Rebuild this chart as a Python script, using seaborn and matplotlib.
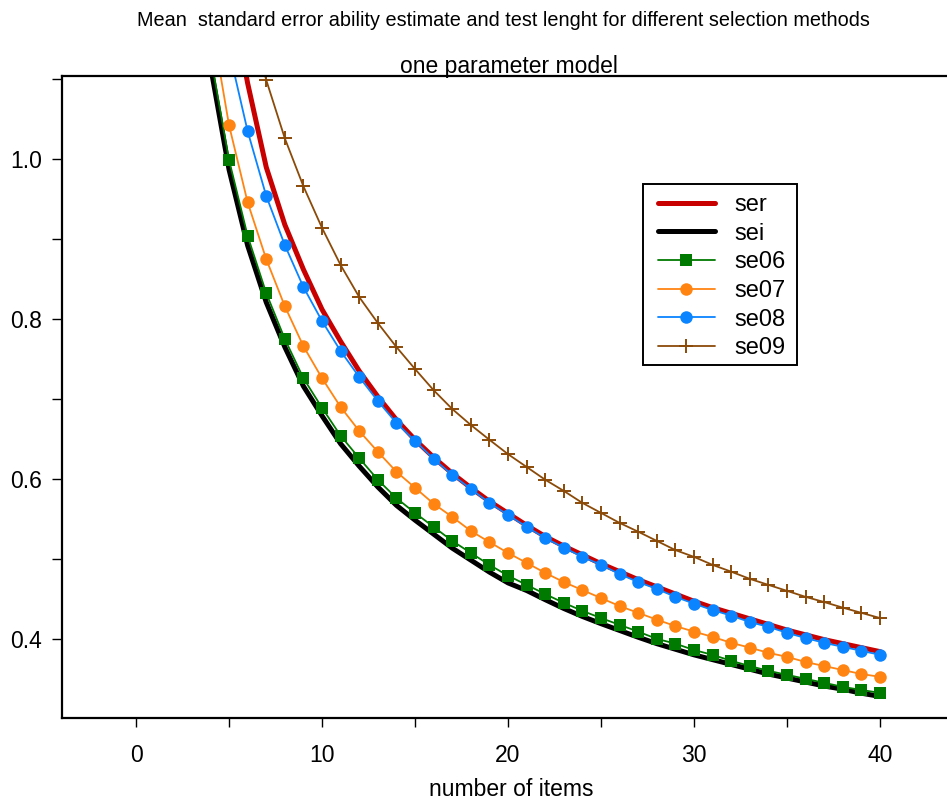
import numpy as np
import pandas as pd
import matplotlib
matplotlib.use("Agg")
import matplotlib.pyplot as plt
import matplotlib.patches as mpatches
import seaborn as sns
from matplotlib.ticker import MultipleLocator

sns.set_theme(style="white")
plt.rcParams['font.family'] = ['Liberation Sans', 'DejaVu Sans']
plt.rcParams['text.color'] = 'black'
plt.rcParams['axes.labelcolor'] = 'black'
plt.rcParams['xtick.color'] = 'black'
plt.rcParams['ytick.color'] = 'black'

# ---------------- data ----------------
n_ser = list(range(5, 41))
ser = [1.22, 1.095, 0.99, 0.918, 0.862, 0.812, 0.772, 0.735, 0.703, 0.674,
       0.649, 0.627, 0.607, 0.589, 0.572, 0.557, 0.542, 0.528, 0.516, 0.505,
       0.494, 0.484, 0.474, 0.465, 0.456, 0.447, 0.439, 0.432, 0.425, 0.418,
       0.411, 0.405, 0.399, 0.394, 0.389, 0.384]

n_sei = list(range(4, 41))
sei = [1.117, 0.987, 0.892, 0.821, 0.765, 0.716, 0.679, 0.644, 0.616, 0.590,
       0.567, 0.5485, 0.531, 0.5135, 0.4985, 0.4835, 0.470, 0.4605, 0.449, 0.438,
       0.428, 0.419, 0.4105, 0.402, 0.394, 0.387, 0.380, 0.374, 0.368, 0.362,
       0.356, 0.351, 0.346, 0.341, 0.337, 0.332, 0.328]

n_se06 = list(range(4, 41))
se06 = [1.130, 0.999, 0.904, 0.8325, 0.775, 0.726, 0.689, 0.654, 0.626, 0.599,
        0.576, 0.5575, 0.540, 0.5225, 0.5075, 0.4925, 0.479, 0.4675, 0.456, 0.445,
        0.435, 0.426, 0.4175, 0.409, 0.400, 0.394, 0.386, 0.380, 0.3725, 0.366,
        0.360, 0.355, 0.350, 0.345, 0.340, 0.336, 0.3325]

n_se07 = list(range(4, 41))
se07 = [1.179, 1.0425, 0.946, 0.875, 0.816, 0.766, 0.726, 0.690, 0.660, 0.634,
        0.609, 0.589, 0.569, 0.5525, 0.535, 0.521, 0.5075, 0.495, 0.4825, 0.471,
        0.461, 0.451, 0.441, 0.4325, 0.424, 0.416, 0.409, 0.4025, 0.395, 0.389,
        0.3825, 0.3775, 0.371, 0.366, 0.361, 0.356, 0.3525]

n_se08 = list(range(5, 41))
se08 = [1.136, 1.035, 0.954, 0.8925, 0.840, 0.7975, 0.760, 0.7275, 0.6975, 0.670,
        0.6475, 0.625, 0.605, 0.5875, 0.570, 0.555, 0.540, 0.526, 0.514, 0.5025,
        0.4925, 0.481, 0.471, 0.4625, 0.4525, 0.444, 0.436, 0.429, 0.421, 0.415,
        0.4075, 0.401, 0.395, 0.390, 0.385, 0.380]

n_se09 = list(range(6, 41))
se09 = [1.19, 1.099, 1.026, 0.966, 0.914, 0.8675, 0.8275, 0.795, 0.765, 0.7375,
        0.711, 0.6875, 0.6675, 0.649, 0.631, 0.615, 0.599, 0.585, 0.570, 0.5575,
        0.545, 0.534, 0.5225, 0.511, 0.5025, 0.4925, 0.484, 0.475, 0.4675, 0.460,
        0.4525, 0.446, 0.439, 0.4325, 0.426]

x_ticks = [0, 10, 20, 30, 40]
y_ticks = [0.4, 0.6, 0.8, 1.0]
title_main = "Mean  standard error ability estimate and test lenght for different selection methods"
title_sub = "one parameter model"
x_label = "number of items"

# ---------------- figure ----------------
W, H = 947, 805
fig = plt.figure(figsize=(W / 100, H / 100), dpi=100)
left_px, right_px, top_px, bottom_px = 62, 960, 76, 718
ax = fig.add_axes([left_px / W, 1 - bottom_px / H, (right_px - left_px) / W, (bottom_px - top_px) / H])

px_per_unit = 18.6
x0 = -3.98
ax.set_xlim(x0, x0 + (right_px - left_px) / px_per_unit)
ax.set_ylim(0.301, 1.104)

series = [
    ("ser", n_ser, ser, dict(color="#C80000", lw=3.6, marker=None)),
    ("sei", n_sei, sei, dict(color="#000000", lw=3.6, marker=None)),
    ("se06", n_se06, se06, dict(color="#007A00", lw=1.3, marker="s", markersize=8, markeredgewidth=0)),
    ("se07", n_se07, se07, dict(color="#FF8411", lw=1.3, marker="o", markersize=9, markeredgewidth=0)),
    ("se08", n_se08, se08, dict(color="#0A84FF", lw=1.3, marker="o", markersize=9, markeredgewidth=0)),
    ("se09", n_se09, se09, dict(color="#8B4A08", lw=1.3, marker="+", markersize=9.5, markeredgewidth=1.4)),
]

for name, xs, ys, kw in series:
    df = pd.DataFrame({"n": xs, "se": ys})
    sns.lineplot(data=df, x="n", y="se", ax=ax, color=kw["color"], linewidth=kw["lw"],
                 marker=kw.get("marker"), markersize=kw.get("markersize", 0),
                 markeredgewidth=kw.get("markeredgewidth", 0), markeredgecolor=kw["color"],
                 label=name, legend=False, errorbar=None)

for sp in ["top", "bottom", "left"]:
    ax.spines[sp].set_visible(True)
    ax.spines[sp].set_color("black")
    ax.spines[sp].set_linewidth(1.6)
ax.spines["right"].set_visible(False)

ax.xaxis.set_minor_locator(MultipleLocator(5))
ax.yaxis.set_minor_locator(MultipleLocator(0.1))
ax.set_xticks(x_ticks)
ax.set_xticklabels([str(v) for v in x_ticks])
ax.set_yticks(y_ticks)
ax.set_yticklabels([f"{v:.1f}" for v in y_ticks])
ax.tick_params(axis="both", which="both", direction="out", color="black", width=1.0,
               bottom=True, left=True, top=False, right=False)
ax.tick_params(axis="x", which="both", length=6.5, labelsize=16.5, pad=12)
ax.tick_params(axis="y", which="both", length=7.5, labelsize=16.5, pad=7)
ax.set_xlabel(x_label, fontsize=16.5, labelpad=8)
ax.set_ylabel("")
ax.grid(False)

# titles
fig.text(503 / W, 1 - 20 / H, title_main, ha="center", va="center", fontsize=14.3)
fig.text(509 / W, 1 - 66 / H, title_sub, ha="center", va="center", fontsize=16.5)

# legend (frame drawn separately to mimic the wider horizontal padding)
frame = mpatches.Rectangle((643 / W, 1 - 365 / H), (797 - 643) / W, (365 - 184) / H,
                           transform=fig.transFigure, facecolor="white",
                           edgecolor="black", linewidth=1.4, zorder=4, clip_on=False)
ax.add_patch(frame)
leg = ax.legend(loc="upper left", bbox_to_anchor=(658 / W, 1 - 194 / H),
                bbox_transform=fig.transFigure, fontsize=17, frameon=False,
                handlelength=2.4, handletextpad=0.85,
                labelspacing=0.283, borderpad=0, borderaxespad=0)
leg.set_zorder(5)

fig.savefig("out.png", dpi=100)
